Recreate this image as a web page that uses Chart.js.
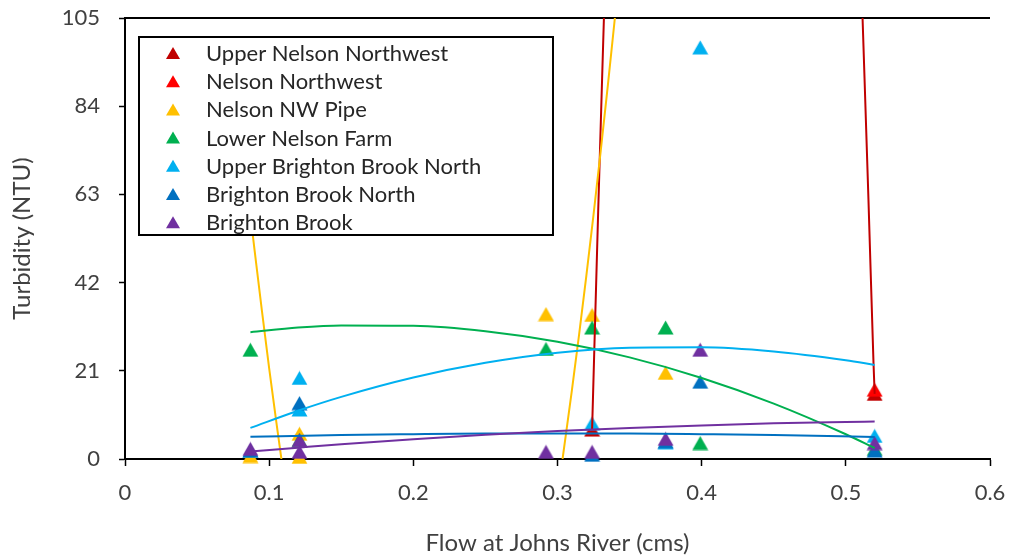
<!DOCTYPE html>
<html>
<head>
<meta charset="utf-8">
<title>Turbidity vs. flow at Johns River</title>
<script src="https://cdn.jsdelivr.net/npm/chart.js@4.4.1/dist/chart.umd.min.js"></script>
<style>
  html, body { margin: 0; padding: 0; background: #ffffff; }
  canvas { display: block; }
</style>
</head>
<body>
<canvas id="chart" width="1011" height="558"></canvas>
<script>
// Sampling sites, in legend order
const siteNames = [
  'Upper Nelson Northwest',
  'Nelson Northwest',
  'Nelson NW Pipe',
  'Lower Nelson Farm',
  'Upper Brighton Brook North',
  'Brighton Brook North',
  'Brighton Brook'
];
const siteColors = ['#C00000', '#FF0000', '#FFC000', '#00B050', '#00B0F0', '#0070C0', '#7030A0'];

// Turbidity samples: [flow at Johns River (cms), turbidity (NTU)]
const upperNelsonNorthwest = [[0.324, 7.0], [0.52, 15.5]];
const nelsonNorthwest = [[0.52, 16.5]];
const nelsonNWPipe = [[0.087, 0.7], [0.121, 0.5], [0.121, 6.0], [0.292, 34.5], [0.324, 34.3], [0.375, 20.5]];
const lowerNelsonFarm = [[0.087, 26.0], [0.121, 4.5], [0.292, 26.2], [0.324, 31.3], [0.375, 31.3], [0.399, 3.8], [0.52, 2.4]];
const upperBrightonBrookNorth = [[0.087, 2.0], [0.121, 19.3], [0.121, 11.8], [0.324, 8.5], [0.375, 4.0], [0.399, 98.0], [0.52, 5.5]];
const brightonBrookNorth = [[0.087, 2.0], [0.121, 13.3], [0.324, 1.0], [0.375, 4.2], [0.399, 18.4], [0.52, 2.0]];
const brightonBrook = [[0.087, 2.4], [0.121, 4.5], [0.121, 1.7], [0.292, 1.7], [0.324, 1.7], [0.375, 4.8], [0.399, 26.0], [0.52, 3.8]];

// Second-order polynomial trend curves (null = off the plotted range)
const upperNelsonNorthwestTrend = [[0.324, 7.0], [0.3283, 60.0], [0.3322, 105.0], [0.42, null],
  [0.5116, 105.0], [0.5157, 61.7], [0.5192, 22.8], [0.52, 15.5]];
const nelsonNWPipeTrend = [[0.087, 58.0], [0.09, 49.4], [0.095, 35.2], [0.1, 21.6], [0.105, 8.7], [0.1085, 0.0],
  [0.2, null],
  [0.3035, 0.0], [0.31, 16.4], [0.315, 29.7], [0.32, 43.6], [0.325, 58.2], [0.33, 73.4], [0.335, 89.2], [0.3398, 105.0]];
const lowerNelsonFarmTrend = [[0.087, 30.2], [0.12, 31.3], [0.15, 31.8], [0.2, 31.7], [0.25, 30.4], [0.3, 27.9],
  [0.35, 24.2], [0.4, 19.3], [0.45, 13.2], [0.5, 5.9], [0.52, 2.6]];
const upperBrightonBrookNorthTrend = [[0.087, 7.4], [0.12, 11.5], [0.15, 14.8], [0.2, 19.4], [0.25, 22.9], [0.3, 25.3],
  [0.35, 26.5], [0.4, 26.6], [0.45, 25.6], [0.5, 23.5], [0.52, 22.4]];
const brightonBrookNorthTrend = [[0.087, 5.3], [0.15, 5.7], [0.2, 5.9], [0.25, 6.06], [0.3, 6.1], [0.35, 6.06],
  [0.4, 5.9], [0.45, 5.7], [0.52, 5.25]];
const brightonBrookTrend = [[0.087, 1.8], [0.12, 2.7], [0.15, 3.5], [0.2, 4.7], [0.25, 5.75], [0.3, 6.65],
  [0.35, 7.4], [0.4, 8.0], [0.45, 8.5], [0.5, 8.8], [0.52, 8.9]];

// Axis ticks
const xTickValues = [0, 0.1, 0.2, 0.3, 0.4, 0.5, 0.6];
const yTickValues = [0, 21, 42, 63, 84, 105];

const sitePoints = [upperNelsonNorthwest, nelsonNorthwest, nelsonNWPipe, lowerNelsonFarm,
  upperBrightonBrookNorth, brightonBrookNorth, brightonBrook];
const siteTrends = [upperNelsonNorthwestTrend, null, nelsonNWPipeTrend, lowerNelsonFarmTrend,
  upperBrightonBrookNorthTrend, brightonBrookNorthTrend, brightonBrookTrend];

const FONT = 'Lato, "Open Sans", sans-serif';
const TEXT_COLOR = '#404040';

// Triangle marker sprite, centred on its bounding box
function triangleSprite(color, w, h) {
  const c = document.createElement('canvas');
  c.width = w + 1;
  c.height = h + 1;
  const g = c.getContext('2d');
  g.beginPath();
  g.moveTo(0.5 + w / 2, 0.5);
  g.lineTo(0.5 + w, 0.5 + h);
  g.lineTo(0.5, 0.5 + h);
  g.closePath();
  g.fillStyle = color;
  g.fill();
  return c;
}

const datasets = [];
siteNames.forEach((name, i) => {
  datasets.push({
    label: name,
    data: sitePoints[i],
    showLine: false,
    pointStyle: triangleSprite(siteColors[i], 16, 14),
    pointRadius: 8,
    backgroundColor: siteColors[i],
    borderColor: siteColors[i],
    clip: false,
    order: 20 - i
  });
});
siteNames.forEach((name, i) => {
  if (!siteTrends[i]) return;
  datasets.push({
    label: name + ' trend',
    data: siteTrends[i],
    showLine: true,
    pointRadius: 0,
    borderColor: siteColors[i],
    borderWidth: 2,
    cubicInterpolationMode: 'monotone',
    spanGaps: false,
    clip: 0,
    order: 10 - i
  });
});

// Plot frame line along the top of the plotting area
const topFrame = {
  id: 'topFrame',
  beforeDatasetsDraw(chart) {
    const { ctx, chartArea } = chart;
    ctx.save();
    ctx.strokeStyle = '#000';
    ctx.lineWidth = 2;
    ctx.beginPath();
    ctx.moveTo(chartArea.left, chartArea.top);
    ctx.lineTo(chartArea.right, chartArea.top);
    ctx.stroke();
    ctx.restore();
  }
};

// Boxed legend inside the plot, with a white fill over the curves
const boxLegend = {
  id: 'boxLegend',
  afterDraw(chart) {
    const { ctx } = chart;
    const box = { left: 139, top: 37, width: 414, height: 198 };
    const rowStart = 53, rowStep = 28.2, markerX = 173, textX = 206;
    ctx.save();
    ctx.fillStyle = '#ffffff';
    ctx.fillRect(box.left, box.top, box.width, box.height);
    ctx.strokeStyle = '#000';
    ctx.lineWidth = 2;
    ctx.strokeRect(box.left, box.top, box.width, box.height);
    ctx.font = '22px ' + FONT;
    ctx.textBaseline = 'middle';
    ctx.textAlign = 'left';
    siteNames.forEach((name, i) => {
      const y = rowStart + i * rowStep;
      ctx.fillStyle = siteColors[i];
      ctx.beginPath();
      ctx.moveTo(markerX, y - 6);
      ctx.lineTo(markerX + 7, y + 6);
      ctx.lineTo(markerX - 7, y + 6);
      ctx.closePath();
      ctx.fill();
      ctx.fillStyle = '#262626';
      ctx.fillText(name, textX, y + 1);
    });
    ctx.restore();
  }
};

new Chart(document.getElementById('chart'), {
  type: 'scatter',
  data: { datasets },
  options: {
    responsive: false,
    animation: false,
    devicePixelRatio: 1,
    layout: { padding: { left: 6, right: 21, top: 18, bottom: 0 } },
    plugins: {
      legend: { display: false },
      tooltip: { enabled: false }
    },
    scales: {
      x: {
        type: 'linear',
        min: 0,
        max: 0.6,
        afterBuildTicks(scale) { scale.ticks = xTickValues.map(v => ({ value: v })); },
        afterFit(scale) {
          scale.height = 99;
          scale.paddingLeft = 0;
          scale.paddingRight = 0;
        },
        ticks: {
          padding: 14,
          color: TEXT_COLOR,
          font: { family: FONT, size: 22 },
          callback: v => String(v),
          maxRotation: 0
        },
        grid: { drawOnChartArea: false, drawTicks: true, tickLength: 7, tickColor: '#000', tickWidth: 1.5 },
        border: { display: true, color: '#000', width: 2 },
        title: {
          display: true,
          text: 'Flow at Johns River (cms)',
          color: TEXT_COLOR,
          font: { family: FONT, size: 24 },
          padding: { top: 0, bottom: 0 }
        }
      },
      y: {
        type: 'linear',
        min: 0,
        max: 105,
        afterBuildTicks(scale) { scale.ticks = yTickValues.map(v => ({ value: v })); },
        afterFit(scale) {
          scale.width = 119;
          scale.paddingTop = 0;
          scale.paddingBottom = 0;
        },
        ticks: {
          padding: 19,
          color: TEXT_COLOR,
          font: { family: FONT, size: 22 },
          callback: v => String(v)
        },
        grid: { drawOnChartArea: false, drawTicks: true, tickLength: 6, tickColor: '#000', tickWidth: 1.5 },
        border: { display: true, color: '#000', width: 2 },
        title: {
          display: true,
          text: 'Turbidity (NTU)',
          color: TEXT_COLOR,
          font: { family: FONT, size: 24 },
          padding: { top: 2, bottom: 0 }
        }
      }
    }
  },
  plugins: [topFrame, boxLegend]
});
</script>
</body>
</html>
